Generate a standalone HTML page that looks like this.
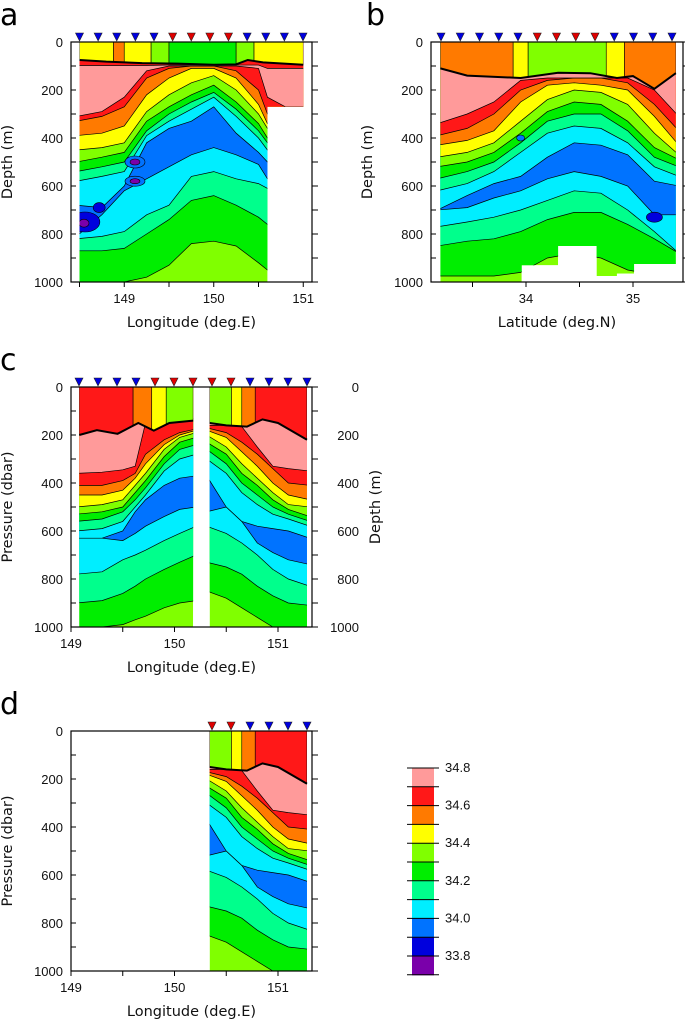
<!DOCTYPE html>
<html><head><meta charset="utf-8">
<style>
html,body{margin:0;padding:0;background:#fff;}
svg{display:block;font-family:"Liberation Sans","DejaVu Sans",sans-serif;}
.tl{font-size:13px;fill:#111;}
.tt{font-size:14.5px;fill:#111;font-family:"DejaVu Sans","Liberation Sans",sans-serif;}
.pl{font-size:30px;fill:#000;font-family:"DejaVu Sans","Liberation Sans",sans-serif;}
</style></head>
<body>
<svg id="fig" width="685" height="1022" viewBox="0 0 685 1022" xmlns="http://www.w3.org/2000/svg"></svg>
<script>
// ---------- colour levels ----------
const levelKeys = ['P','R','O','Y','L','G','S','C','A','B','V'];
const levelColors = ['#FF9A9A','#FF1818','#FF7A00','#FFFF00','#80FF00','#00EE00','#00FF8C','#00EEFF','#0073FF','#0000DD','#7A00AA'];
const colorbarLabels = ['34.8','34.6','34.4','34.2','34.0','33.8'];

// ---------- panel a (longitude section, depth m) ----------
const aXs = [148.5,148.75,149,149.25,149.5,149.75,150,150.25,150.5,150.6,150.8,151.0];
const aG  = [1000,1000,1000,980,930,840,830,850,920,950,950,950];
const aS  = [870,870,860,800,740,660,640,680,730,760,760,760];
const aC  = [820,810,790,720,680,560,540,570,590,610,610,610];
const aA  = [810,720,620,570,520,470,440,470,510,570,570,570];
const aC2 = [680,690,600,420,360,330,270,380,460,500,500,500];
const aS2 = [580,560,540,390,330,280,230,310,400,450,450,450];
const aG2 = [540,520,500,370,300,250,210,280,370,420,420,420];
const aL2 = [500,480,460,330,270,220,180,250,340,400,400,400];
const aY2 = [450,440,420,290,220,170,140,200,300,360,360,360];
const aO2 = [390,380,350,220,150,110,110,150,260,340,340,340];
const aR2 = [330,310,270,150,110,100,100,120,200,300,280,280];
const aP  = [310,290,230,120,100,100,100,100,110,230,270,270];
const aRt = [98,98,98,98,96,96,96,96,96,110,110,110];
const aSurf = [[148.5,148.88,'Y'],[148.88,149.0,'O'],[149.0,149.3,'Y'],[149.3,149.5,'L'],[149.5,150.25,'G'],[150.25,150.45,'L'],[150.45,151.0,'Y']];
const aLine = [[148.5,75],[148.8,82],[149.2,88],[149.6,90],[150.0,95],[150.25,93],[150.38,75],[150.55,85],[151.0,95]];
const aStations = ['b','b','b','b','b','r','r','r','r','b','b','b','b'];

// ---------- panel b (latitude section, depth m) ----------
const bXs = [33.2,33.45,33.7,33.95,34.2,34.45,34.7,34.95,35.2,35.4];
const bG  = [975,975,975,960,900,880,900,950,970,980];
const bS  = [850,830,820,790,740,710,710,760,820,880];
const bC  = [770,750,730,700,660,620,630,700,790,880];
const bA  = [700,690,650,620,570,540,560,600,720,720];
const bC2 = [700,640,590,560,480,420,430,470,580,600];
const bS2 = [620,590,540,460,380,350,360,420,520,560];
const bG2 = [570,540,500,420,330,300,300,370,480,520];
const bL2 = [520,500,460,380,290,250,260,330,440,490];
const bY2 = [480,460,420,330,240,200,210,260,380,470];
const bO2 = [430,410,370,250,180,170,180,200,310,430];
const bR2 = [390,360,300,200,160,150,150,170,260,370];
const bP  = [340,300,250,160,150,150,150,150,200,310];
const bSurf = [[33.2,33.88,'O'],[33.88,34.02,'Y'],[34.02,34.75,'L'],[34.75,34.92,'Y'],[34.92,35.4,'O']];
const bLine = [[33.2,110],[33.45,140],[33.95,150],[34.3,128],[34.6,130],[34.85,150],[35.0,142],[35.2,195],[35.4,130]];
const bStations = ['b','b','b','b','b','r','r','r','r','b','b','b','b'];

// ---------- panel c left part (pressure dbar) ----------
const cLXs = [149.08,149.3,149.5,149.62,149.72,149.9,150.05,150.18];
const cLG  = [1000,1000,990,970,955,920,900,890];
const cLS  = [900,890,860,830,800,760,730,700];
const cLC  = [780,770,720,700,680,640,610,580];
const cLA  = [630,630,640,610,580,540,510,500];
const cLC2 = [630,630,600,520,470,410,380,370];
const cLS2 = [600,590,560,500,450,350,300,280];
const cLG2 = [560,550,520,470,420,320,260,240];
const cLL2 = [530,520,500,440,390,290,230,210];
const cLY2 = [500,490,470,410,360,260,210,190];
const cLO2 = [450,450,430,380,320,240,200,180];
const cLR2 = [410,410,390,360,280,220,190,175];
const cLP  = [360,355,345,330,150,150,140,130];
const cLSurf = [[149.08,149.6,'R'],[149.6,149.78,'O'],[149.78,149.92,'Y'],[149.92,150.18,'L']];
const cLLine = [[149.08,200],[149.25,180],[149.45,195],[149.65,150],[149.8,182],[149.95,150],[150.18,140]];

// ---------- panel c right part / panel d ----------
const cRXs = [150.34,150.5,150.65,150.8,150.95,151.1,151.28];
const cRG  = [850,880,920,960,1000,1000,1000];
const cRS  = [730,750,780,830,870,900,910];
const cRC  = [580,610,650,700,760,800,830];
const cRA  = [520,500,560,650,690,720,740];
const cRC2 = [370,500,560,580,590,600,630];
const cRS2 = [300,360,440,490,530,550,580];
const cRG2 = [260,320,400,450,500,530,560];
const cRL2 = [230,280,360,410,470,510,540];
const cRY2 = [200,250,320,380,440,490,500];
const cRO2 = [180,210,270,330,400,450,470];
const cRR2 = [170,190,230,280,340,400,410];
const cRP  = [160,160,165,250,330,340,350];
const cRSurf = [[150.34,150.55,'L'],[150.55,150.65,'Y'],[150.65,150.78,'O'],[150.78,151.28,'R']];
const cRLine = [[150.34,150],[150.5,160],[150.7,165],[150.85,135],[151.0,150],[151.28,220]];
const cStations = ['b','b','b','b','r','r','r','r','r','b','b','b','b'];
const dStations = ['r','r','b','b','b','b'];

// ---------- helpers ----------
const NS='http://www.w3.org/2000/svg';
const svg=document.getElementById('fig');
function col(k){return levelColors[levelKeys.indexOf(k)];}
function mk(tag,attrs,parent){const e=document.createElementNS(NS,tag);for(const k in attrs)e.setAttribute(k,attrs[k]);(parent||svg).appendChild(e);return e;}
function interp(line,x){if(x<=line[0][0])return line[0][1];for(let i=1;i<line.length;i++){if(x<=line[i][0]){const t=(x-line[i-1][0])/(line[i][0]-line[i-1][0]);return line[i-1][1]+t*(line[i][1]-line[i-1][1]);}}return line[line.length-1][1];}

let clipId=0;
function section(P,xs,bands,surf,line,clipPoly){
  const g=mk('g',{});
  
  
  const cid='clip'+(clipId++);
  const cp=mk('clipPath',{id:cid},g);
  mk('polygon',{points:clipPoly.map(p=>P.x(p[0])+','+P.y(p[1])).join(' ')},cp);
  const inner=mk('g',{'clip-path':'url(#'+cid+')'},g);
  // base lime
  const base=mk('polygon',{points:clipPoly.map(p=>P.x(p[0])+','+P.y(p[1])).join(' '),fill:col('L')},inner);
  
  
  const x0=xs[0],xn=xs[xs.length-1];
  bands.forEach(b=>{
    const pts=[[P.x(x0)-3,P.y(0)-3],[P.x(xn)+3,P.y(0)-3]];
    const curve=xs.map((x,i)=>[P.x(x),P.y(b[1][i])]);
    curve[0][0]-=3;curve[curve.length-1][0]+=3;
    const all=pts.concat(curve.slice().reverse());
    const poly=mk('polygon',{points:all.map(p=>p.join(',')).join(' '),fill:col(b[0])},inner);
    
    
    const pl=mk('polyline',{points:curve.map(p=>p.join(',')).join(' '),fill:'none',stroke:'#000','stroke-width':'0.7'},inner);
    
    
  });
  if(P.blobs){P.blobs.forEach(bl=>{
    const e=mk('ellipse',{cx:P.x(bl[0]),cy:P.y(bl[1]),rx:bl[2],ry:bl[3],fill:col(bl[4]),stroke:'#000','stroke-width':'0.6'},inner);
    
    
  });}
  surf.forEach(s=>{
    const n=12,pts=[[P.x(s[0]),P.y(0)-2],[P.x(s[1]),P.y(0)-2]];
    for(let i=n;i>=0;i--){const x=s[0]+(s[1]-s[0])*i/n;pts.push([P.x(x),P.y(interp(line,x))]);}
    const poly=mk('polygon',{points:pts.map(p=>p.join(',')).join(' '),fill:col(s[2]),stroke:'#000','stroke-width':'0.6'},inner);
    
    
  });
  const ml=mk('polyline',{points:line.map(p=>P.x(p[0])+','+P.y(p[1])).join(' '),fill:'none',stroke:'#000','stroke-width':'2'},g);
  
  
}

function axes(P,opt){
  const g=mk('g',{});
  
  
  const L=P.fl,R=P.fr,T=P.y(0),B=P.y(1000);
  mk('rect',{x:L,y:T,width:R-L,height:B-T,fill:'none',stroke:'#000','stroke-width':'1.2'},g);
  for(let d=0;d<=1000;d+=100){
    const y=P.y(d);
    mk('line',{x1:L,x2:L+5,y1:y,y2:y,stroke:'#000','stroke-width':'1'},g);
    mk('line',{x1:R,x2:R+6,y1:y,y2:y,stroke:'#000','stroke-width':'1'},g);
    if(d%200===0){
      const t=mk('text',{x:L-8,y:y+5,'text-anchor':'end',class:'tl'},g);t.textContent=d;
      
      
      if(opt.right){const t2=mk('text',{x:R+47,y:y+5,'text-anchor':'end',class:'tl'},g);t2.textContent=d;
        
        }
    }
  }
  opt.xt.forEach(v=>{
    const x=P.x(v);
    mk('line',{x1:x,x2:x,y1:B,y2:B+5,stroke:'#000','stroke-width':'1'},g);
    if(Math.abs(v-Math.round(v))<1e-6){const t=mk('text',{x:x,y:B+21,'text-anchor':'middle',class:'tl'},g);t.textContent=Math.round(v);
      
      }
  });
  const xt=mk('text',{x:(L+R)/2,y:B+45,'text-anchor':'middle',class:'tt'},g);xt.textContent=opt.xtitle;
  
  
  const yt=mk('text',{x:0,y:0,'text-anchor':'middle',class:'tt',transform:'translate('+opt.ytx+','+(T+B)/2+') rotate(-90)'},g);yt.textContent=opt.ytitle;
  
  
  if(opt.right){const rt=mk('text',{x:0,y:0,'text-anchor':'middle',class:'tt',transform:'translate('+(R+68)+','+(T+B)/2+') rotate(-90)'},g);rt.textContent='Depth (m)';
    
    }
  const pl=mk('text',{x:opt.lx,y:T-17,class:'pl'},g);pl.textContent=opt.letter;
  
  
  // station markers
  opt.st.forEach((c,i)=>{
    const x=opt.sx0+(opt.sx1-opt.sx0)*i/(opt.st.length-1);
    const tri=mk('polygon',{points:(x-4)+','+(T-9)+' '+(x+4)+','+(T-9)+' '+x+','+(T-1),fill:c==='r'?'#E00000':'#0000E0',stroke:'#222','stroke-width':'0.6'},g);
    
    
  });
}
function bandList(pre){return pre;}

// ---------- panel a ----------
const PA={name:'panel-a',x:v=>79.5+(v-148.5)*89.5,y:d=>42+d*0.24,fl:71,fr:312,
  blobs:[[148.56,750,15,10,'B'],[148.55,755,5,4,'V'],[148.72,690,6,5,'B'],[149.12,500,10,6,'A'],[149.12,500,5,3,'V'],[149.12,580,10,5,'A'],[149.12,580,5,2.5,'V']]};
section(PA,aXs,[['G',aG],['S',aS],['C',aC],['A',aA],['C',aC2],['S',aS2],['G',aG2],['L',aL2],['Y',aY2],['O',aO2],['R',aR2],['P',aP],['R',aRt]],aSurf,aLine,
  [[148.5,0],[151,0],[151,270],[150.6,270],[150.6,1000],[148.5,1000]]);
axes(PA,{xt:[148.5,149,149.5,150,150.5,151],xtitle:'Longitude (deg.E)',ytitle:'Depth (m)',ytx:12,letter:'a',lx:0,st:aStations,sx0:79.5,sx1:303});

// ---------- panel b ----------
const PB={name:'panel-b',x:v=>526+(v-34)*107,y:d=>42+d*0.24,fl:431,fr:683,
  blobs:[[35.2,730,8,5,'B'],[33.95,400,4,3,'A']]};
section(PB,bXs,[['G',bG],['S',bS],['C',bC],['A',bA],['C',bC2],['S',bS2],['G',bG2],['L',bL2],['Y',bY2],['O',bO2],['R',bR2],['P',bP]],bSurf,bLine,
  [[33.2,0],[35.4,0],[35.4,925],[35.01,925],[35.01,965],[34.85,965],[34.85,975],[34.66,975],[34.66,850],[34.3,850],[34.3,930],[33.96,930],[33.96,1000],[33.2,1000]]);
axes(PB,{xt:[33.5,34,34.5,35],xtitle:'Latitude (deg.N)',ytitle:'Depth (m)',ytx:372,letter:'b',lx:366,st:bStations,sx0:441,sx1:672});

// ---------- panel c ----------
const PC={name:'panel-c',x:v=>71+(v-149)*103.5,y:d=>387+d*0.24,fl:71,fr:312};
section(PC,cLXs,[['G',cLG],['S',cLS],['C',cLC],['A',cLA],['C',cLC2],['S',cLS2],['G',cLG2],['L',cLL2],['Y',cLY2],['O',cLO2],['R',cLR2],['P',cLP]],cLSurf,cLLine,
  [[149.08,0],[150.18,0],[150.18,1000],[149.08,1000]]);
section(PC,cRXs,[['G',cRG],['S',cRS],['C',cRC],['A',cRA],['C',cRC2],['S',cRS2],['G',cRG2],['L',cRL2],['Y',cRY2],['O',cRO2],['R',cRR2],['P',cRP]],cRSurf,cRLine,
  [[150.34,0],[151.28,0],[151.28,1000],[150.34,1000]]);
axes(PC,{xt:[149,149.5,150,150.5,151],xtitle:'Longitude (deg.E)',ytitle:'Pressure (dbar)',ytx:12,letter:'c',lx:0,st:cStations,sx0:79,sx1:307,right:true});

// ---------- panel d ----------
const PD={name:'panel-d',x:v=>71+(v-149)*103.5,y:d=>731+d*0.24,fl:71,fr:312};
section(PD,cRXs,[['G',cRG],['S',cRS],['C',cRC],['A',cRA],['C',cRC2],['S',cRS2],['G',cRG2],['L',cRL2],['Y',cRY2],['O',cRO2],['R',cRR2],['P',cRP]],cRSurf,cRLine,
  [[150.34,0],[151.28,0],[151.28,1000],[150.34,1000]]);
axes(PD,{xt:[149,149.5,150,150.5,151],xtitle:'Longitude (deg.E)',ytitle:'Pressure (dbar)',ytx:12,letter:'d',lx:0,st:dStations,sx0:212,sx1:307});

// ---------- colour bar ----------
const cb=mk('g',{});


const cbTop=768,cbH=18.8,cbX=412,cbW=22;
levelColors.forEach((c,i)=>{
  const r=mk('rect',{x:cbX,y:cbTop+i*cbH,width:cbW,height:cbH+0.5,fill:c},cb);
  
  
});
for(let i=0;i<=levelColors.length;i++){
  const y=cbTop+i*cbH;
  mk('line',{x1:407,x2:439,y1:y,y2:y,stroke:'#000','stroke-width':'1'},cb);
}
colorbarLabels.forEach((s,i)=>{
  const t=mk('text',{x:445,y:cbTop+i*2*cbH+4,class:'tl','font-size':'12'},cb);t.textContent=s;
  
  
});
</script>
</body></html>
